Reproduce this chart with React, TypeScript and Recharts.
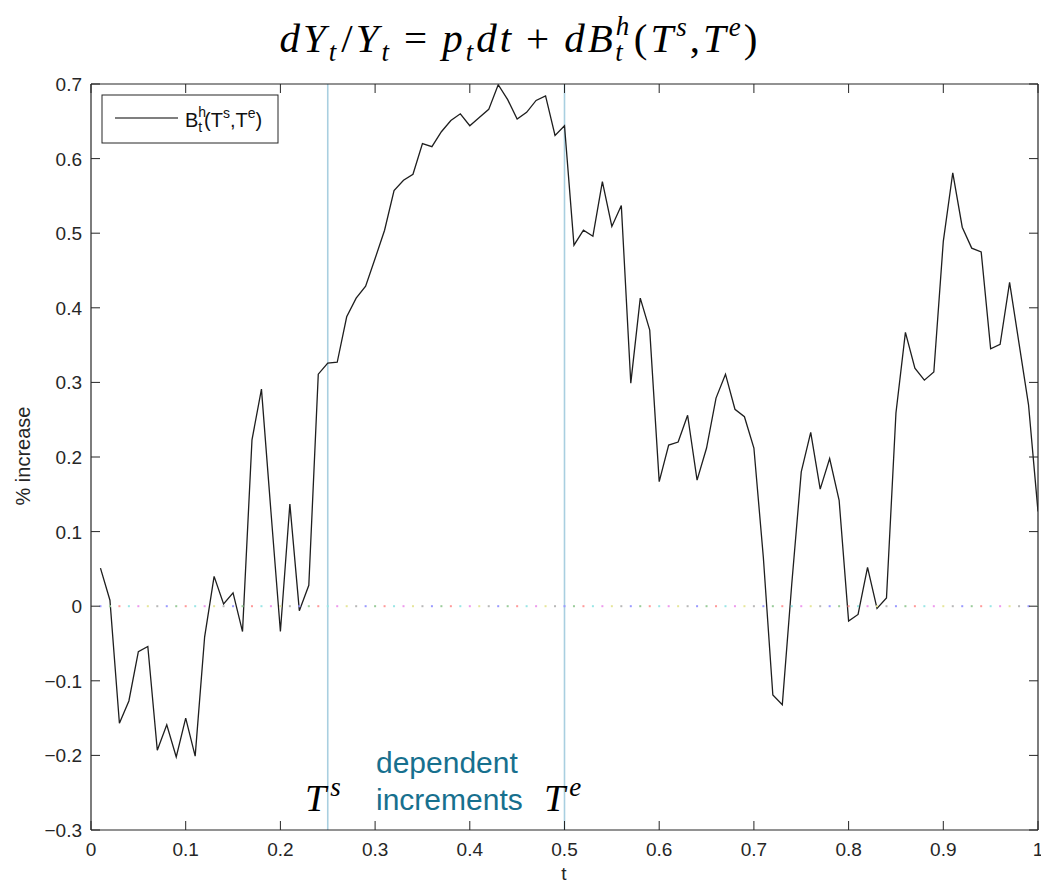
import React from 'react';
import { ComposedChart, Line, Scatter, XAxis, YAxis, ReferenceLine } from 'recharts';

const tValues = [
  0.01, 0.02, 0.03, 0.04, 0.05, 0.06, 0.07, 0.08, 0.09, 0.1,
  0.11, 0.12, 0.13, 0.14, 0.15, 0.16, 0.17, 0.18, 0.19, 0.2,
  0.21, 0.22, 0.23, 0.24, 0.25, 0.26, 0.27, 0.28, 0.29, 0.3,
  0.31, 0.32, 0.33, 0.34, 0.35, 0.36, 0.37, 0.38, 0.39, 0.4,
  0.41, 0.42, 0.43, 0.44, 0.45, 0.46, 0.47, 0.48, 0.49, 0.5,
  0.51, 0.52, 0.53, 0.54, 0.55, 0.56, 0.57, 0.58, 0.59, 0.6,
  0.61, 0.62, 0.63, 0.64, 0.65, 0.66, 0.67, 0.68, 0.69, 0.7,
  0.71, 0.72, 0.73, 0.74, 0.75, 0.76, 0.77, 0.78, 0.79, 0.8,
  0.81, 0.82, 0.83, 0.84, 0.85, 0.86, 0.87, 0.88, 0.89, 0.9,
  0.91, 0.92, 0.93, 0.94, 0.95, 0.96, 0.97, 0.98, 0.99, 1.0,
];

const pathValues = [
  0.051, 0.008, -0.157, -0.127, -0.061, -0.054, -0.193, -0.159, -0.202, -0.150,
  -0.201, -0.041, 0.040, 0.003, 0.018, -0.034, 0.223, 0.291, 0.127, -0.034,
  0.137, -0.006, 0.028, 0.311, 0.326, 0.327, 0.388, 0.413, 0.429, 0.466,
  0.504, 0.557, 0.571, 0.579, 0.620, 0.616, 0.636, 0.651, 0.660, 0.644,
  0.655, 0.666, 0.699, 0.679, 0.653, 0.662, 0.678, 0.684, 0.631, 0.644,
  0.484, 0.504, 0.496, 0.569, 0.509, 0.537, 0.299, 0.413, 0.370, 0.167,
  0.216, 0.220, 0.256, 0.169, 0.212, 0.279, 0.311, 0.264, 0.254, 0.212,
  0.065, -0.119, -0.132, 0.030, 0.180, 0.233, 0.157, 0.198, 0.142, -0.020,
  -0.011, 0.052, -0.003, 0.011, 0.259, 0.367, 0.319, 0.303, 0.314, 0.489,
  0.581, 0.508, 0.480, 0.475, 0.345, 0.351, 0.434, 0.352, 0.270, 0.127,
];

const xTicks = [0, 0.1, 0.2, 0.3, 0.4, 0.5, 0.6, 0.7, 0.8, 0.9, 1];
const xTickLabels = ['0', '0.1', '0.2', '0.3', '0.4', '0.5', '0.6', '0.7', '0.8', '0.9', '1'];
const yTicks = [-0.3, -0.2, -0.1, 0, 0.1, 0.2, 0.3, 0.4, 0.5, 0.6, 0.7];
const yTickLabels = ['\u22120.3', '\u22120.2', '\u22120.1', '0', '0.1', '0.2', '0.3', '0.4', '0.5', '0.6', '0.7'];
const zeroDotColors = ['#9a9aff', '#9acc9a', '#ff9a9a', '#9ae6e6', '#ee9aee', '#e6e69a', '#b8b8b8'];
const markerTimes = [0.25, 0.5];

const data = tValues.map((t, i) => ({ t, v: pathValues[i], z: 0, c: zeroDotColors[i % 7] }));

const AXIS = '#262626';
const SANS = "'Liberation Sans', Arial, Helvetica, sans-serif";
const SERIF = "'Liberation Serif', 'Times New Roman', serif";
const TL = 9;

const labelFor = (ticks: number[], labels: string[], v: number) => {
  let best = 0;
  ticks.forEach((tk, i) => {
    if (Math.abs(tk - v) < Math.abs(ticks[best] - v)) best = i;
  });
  return labels[best];
};

const BottomTick = (props: any) => {
  const { x, y, payload } = props;
  return (
    <g>
      <line x1={x} x2={x} y1={y} y2={y - TL} stroke={AXIS} strokeWidth={1} />
      <text x={x} y={y + 26} textAnchor="middle" fontSize={19} fontFamily={SANS} fill={AXIS}>
        {labelFor(xTicks, xTickLabels, payload.value)}
      </text>
    </g>
  );
};

const TopTick = (props: any) => {
  const { x, y } = props;
  return <line x1={x} x2={x} y1={y} y2={y + TL} stroke={AXIS} strokeWidth={1} />;
};

const LeftTick = (props: any) => {
  const { x, y, payload } = props;
  return (
    <g>
      <line x1={x} x2={x + TL} y1={y} y2={y} stroke={AXIS} strokeWidth={1} />
      <text x={x - 9} y={y + 7} textAnchor="end" fontSize={19} fontFamily={SANS} fill={AXIS}>
        {labelFor(yTicks, yTickLabels, payload.value)}
      </text>
    </g>
  );
};

const RightTick = (props: any) => {
  const { x, y } = props;
  return <line x1={x} x2={x - TL} y1={y} y2={y} stroke={AXIS} strokeWidth={1} />;
};

const ZeroDot = (props: any) => {
  const { cx, cy, payload } = props;
  if (cx == null || cy == null) return null;
  return <rect x={cx - 1} y={cy - 1} width={2} height={2} fill={payload.c} />;
};

export default function App() {
  return (
    <div style={{ position: 'absolute', left: 0, top: 0, width: 1041, height: 883, background: '#fff' }}>
      <ComposedChart
        width={1041}
        height={883}
        data={data}
        margin={{ top: 83, right: 2, bottom: 0, left: 0 }}
      >
        <XAxis
          dataKey="t"
          type="number"
          domain={[0, 1]}
          ticks={xTicks}
          interval={0}
          height={53}
          tickSize={0}
          tickMargin={0}
          tickLine={false}
          axisLine={{ stroke: AXIS, strokeWidth: 1.2 }}
          tick={<BottomTick />}
          allowDataOverflow
        />
        <XAxis
          xAxisId="top"
          dataKey="t"
          orientation="top"
          type="number"
          domain={[0, 1]}
          ticks={xTicks}
          interval={0}
          height={1}
          tickSize={0}
          tickMargin={0}
          tickLine={false}
          axisLine={{ stroke: AXIS, strokeWidth: 1.2 }}
          tick={<TopTick />}
          allowDataOverflow
        />
        <YAxis
          type="number"
          domain={[-0.3, 0.7]}
          ticks={yTicks}
          interval={0}
          width={91}
          tickSize={0}
          tickMargin={0}
          tickLine={false}
          axisLine={{ stroke: AXIS, strokeWidth: 1.2 }}
          tick={<LeftTick />}
          allowDataOverflow
        />
        <YAxis
          yAxisId="right"
          orientation="right"
          type="number"
          domain={[-0.3, 0.7]}
          ticks={yTicks}
          interval={0}
          width={1}
          tickSize={0}
          tickMargin={0}
          tickLine={false}
          axisLine={{ stroke: AXIS, strokeWidth: 1.2 }}
          tick={<RightTick />}
          allowDataOverflow
        />
        <Scatter dataKey="z" shape={<ZeroDot />} isAnimationActive={false} />
        {markerTimes.map((m) => (
          <ReferenceLine key={m} x={m} stroke="#a9cfe0" strokeWidth={1.6} />
        ))}
        <Line
          type="linear"
          dataKey="v"
          stroke="#1e1e1e"
          strokeWidth={1.3}
          dot={false}
          activeDot={false}
          isAnimationActive={false}
        />
      </ComposedChart>

      <svg
        width={1041}
        height={883}
        style={{ position: 'absolute', left: 0, top: 0, pointerEvents: 'none' }}
      >
        <text x={520} y={52} textAnchor="middle" fontFamily={SERIF} fontSize={41} letterSpacing={3} fill="#000">
          <tspan fontStyle="italic">dY</tspan>
          <tspan fontStyle="italic" fontSize={27} dy={9}>t</tspan>
          <tspan dy={-9} dx={2}>/</tspan>
          <tspan fontStyle="italic">Y</tspan>
          <tspan fontStyle="italic" fontSize={27} dy={9}>t</tspan>
          <tspan dy={-9} dx={12}>=</tspan>
          <tspan fontStyle="italic" dx={12}>p</tspan>
          <tspan fontStyle="italic" fontSize={27} dy={9}>t</tspan>
          <tspan fontStyle="italic" dy={-9}>dt</tspan>
          <tspan dx={12}>+</tspan>
          <tspan fontStyle="italic" dx={12}>dB</tspan>
          <tspan fontStyle="italic" fontSize={27} dy={-17}>h</tspan>
          <tspan fontStyle="italic" fontSize={27} dy={26} dx={-17}>t</tspan>
          <tspan dy={-9} dx={8}>(</tspan>
          <tspan fontStyle="italic">T</tspan>
          <tspan fontStyle="italic" fontSize={27} dy={-16}>s</tspan>
          <tspan dy={16}>,</tspan>
          <tspan fontStyle="italic">T</tspan>
          <tspan fontStyle="italic" fontSize={27} dy={-16}>e</tspan>
          <tspan dy={16}>)</tspan>
        </text>

        <rect x={102} y={95} width={176} height={48} fill="#fff" stroke={AXIS} strokeWidth={1} />
        <line x1={115} x2={178} y1={118} y2={118} stroke="#555" strokeWidth={1.3} />
        <text x={185} y={127} fontSize={20} fontFamily={SANS} fill="#111">
          B
          <tspan fontSize={14} dy={-10}>h</tspan>
          <tspan fontSize={14} dy={15} dx={-8}>t</tspan>
          <tspan dy={-5} dx={2}>(T</tspan>
          <tspan fontSize={14} dy={-9}>s</tspan>
          <tspan dy={9}>,T</tspan>
          <tspan fontSize={14} dy={-9}>e</tspan>
          <tspan dy={9}>)</tspan>
        </text>

        <text x={30} y={456} transform="rotate(-90 30 456)" textAnchor="middle" fontSize={20} fontFamily={SANS} fill={AXIS}>
          % increase
        </text>
        <text x={564} y={880} textAnchor="middle" fontSize={19} fontFamily={SANS} fill={AXIS}>
          t
        </text>

        <text x={305} y={811} fontFamily={SERIF} fontStyle="italic" fontSize={38} fill="#000">
          T<tspan fontSize={27} dy={-15} dx={4}>s</tspan>
        </text>
        <text x={376} y={773} fontFamily={SANS} fontSize={30} fill="#17708e">dependent</text>
        <text x={376} y={810} fontFamily={SANS} fontSize={30} fill="#17708e">increments</text>
        <text x={544} y={811} fontFamily={SERIF} fontStyle="italic" fontSize={38} fill="#000">
          T<tspan fontSize={27} dy={-15} dx={4}>e</tspan>
        </text>
      </svg>
    </div>
  );
}
